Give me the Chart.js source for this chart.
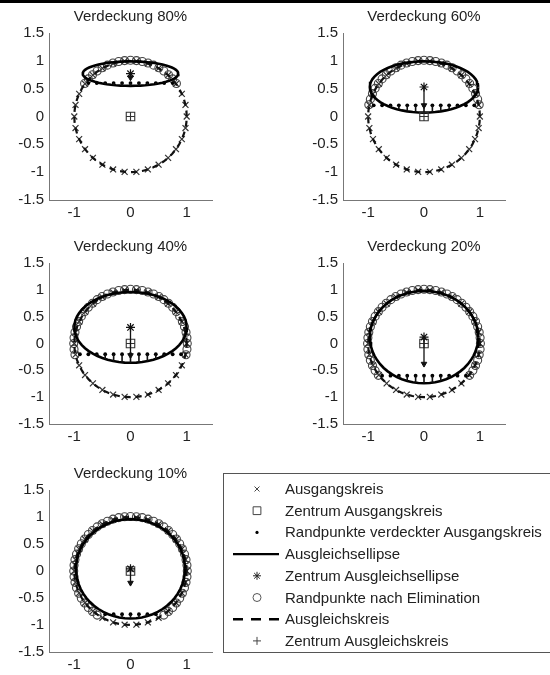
<!DOCTYPE html>
<html>
<head>
<meta charset="utf-8">
<script src="https://cdn.jsdelivr.net/npm/chart.js@4.4.0/dist/chart.umd.min.js"></script>
<style>
  body { margin: 0; width: 550px; height: 675px; overflow: hidden; background: #fff; position: relative;
         font-family: "Liberation Sans", Arial, sans-serif; }
  #topbar { position: absolute; left: 0; top: 0; width: 550px; height: 3px; background: #000; }
  canvas { position: absolute; }
  #legendBox { position: absolute; left: 223px; top: 473px; width: 360px; height: 178px; border: 1px solid #555; }
  .lg { position: absolute; left: 285px; height: 18px; line-height: 18px; font-size: 15px; color: #222; white-space: nowrap; }
</style>
</head>
<body>
<div id="topbar"></div>
<div id="legendBox"></div>
<canvas id="legendCanvas" width="327" height="182" style="left:223px;top:473px"></canvas>

<script>
// Panel data
const coverage   = [80, 60, 40, 20, 10];           // Verdeckung in %
const chordY     = [0.6, 0.2, -0.2, -0.6, -0.8];   // height of the occlusion edge
const ellipseCY  = [0.77, 0.53, 0.30, 0.12, 0.04]; // Zentrum Ausgleichsellipse (y)
const ellipseA   = [0.85, 0.97, 1.00, 0.97, 0.97]; // half axis x
const ellipseB   = [0.22, 0.46, 0.66, 0.86, 0.92]; // half axis y
const arrowEndY  = [0.70, 0.20, -0.22, -0.38, -0.22];
const fitCircleR = [1.0, 1.0, 1.0, 1.0, 1.0];      // Ausgleichskreis radius
const fitCircleC = [0, 0];                          // Zentrum Ausgleichskreis
const startCircleC = [0, 0];                        // Zentrum Ausgangskreis

// sample positions
const crossAngles = [0, 12, 24, 36, 48, 60, 72, 84, 96, 108, 120, 132, 144, 156, 168,
                     180, 192, 204, 216, 228, 240, 252, 264, 276, 288, 300, 312, 324, 336, 348];
const arcAngles = [0, 6, 12, 18, 24, 30, 36, 42, 48, 54, 60, 66, 72, 78, 84, 90, 96, 102, 108, 114,
                   120, 126, 132, 138, 144, 150, 156, 162, 168, 174, 180, 186, 192, 198, 204, 210,
                   216, 222, 228, 234, 240, 246, 252, 258, 264, 270, 276, 282, 288, 294, 300, 306,
                   312, 318, 324, 330, 336, 342, 348, 354];
const chordX = [-0.9, -0.75, -0.6, -0.45, -0.3, -0.15, 0, 0.15, 0.3, 0.45, 0.6, 0.75, 0.9];

const xTicks = [-1, 0, 1];
const yTicks = [-1.5, -1, -0.5, 0, 0.5, 1, 1.5];

const legendLabels = [
    'Ausgangskreis',
    'Zentrum Ausgangskreis',
    'Randpunkte verdeckter Ausgangskreis',
    'Ausgleichsellipse',
    'Zentrum Ausgleichsellipse',
    'Randpunkte nach Elimination',
    'Ausgleichskreis',
    'Zentrum Ausgleichskreis'
];

// plot area of every panel in page pixels
const panelBoxes = [
    { l: 49,  r: 212, t: 33,  b: 200 },
    { l: 343, r: 505, t: 33,  b: 200 },
    { l: 49,  r: 212, t: 263, b: 424 },
    { l: 343, r: 505, t: 263, b: 424 },
    { l: 49,  r: 212, t: 490, b: 652 }
];

Chart.defaults.font.family = '"Liberation Sans", Arial, sans-serif';
Chart.defaults.font.size = 15;
Chart.defaults.color = '#222';

const rad = d => d * Math.PI / 180;

function ring(cx, cy, rx, ry, angles) {
    return angles.map(a => ({ x: cx + rx * Math.cos(rad(a)), y: cy + ry * Math.sin(rad(a)) }));
}

function buildPanel(i) {
    const box = panelBoxes[i];
    const left = box.l - 49, top = box.t - 33;
    const canvas = document.createElement('canvas');
    canvas.width = box.r - left + 18;
    canvas.height = box.b - top + 25;
    canvas.style.left = left + 'px';
    canvas.style.top = top + 'px';
    document.body.appendChild(canvas);

    const h = chordY[i], cy = ellipseCY[i], a = ellipseA[i], b = ellipseB[i];
    const halfChord = Math.sqrt(1 - h * h);

    // original circle markers
    const crosses = ring(startCircleC[0], startCircleC[1], 1, 1, crossAngles);
    // remaining border points above the occlusion edge
    const elim = ring(0, 0, 1.01, 1.01, arcAngles.filter(d => Math.sin(rad(d)) >= h - 0.02));
    // occluded border points on the chord
    const chordPts = chordX.filter(x => Math.abs(x) < halfChord).map(x => ({ x: x, y: h }));
    // stems from the chord down to the ellipse
    const stems = [];
    chordPts.forEach(p => {
        if (Math.abs(p.x) >= a) return;
        const yLow = cy - b * Math.sqrt(1 - (p.x / a) * (p.x / a));
        if (yLow < h) {
            stems.push({ x: p.x, y: h }, { x: p.x, y: yLow }, { x: p.x, y: null });
        }
    });
    const ell = ring(0, cy, a, b, arcAngles.concat([360]));
    const fitC = ring(fitCircleC[0], fitCircleC[1], fitCircleR[i], fitCircleR[i], arcAngles.concat([360]));

    new Chart(canvas, {
        type: 'scatter',
        data: {
            datasets: [
                { label: 'arrow', data: [{ x: 0, y: cy }, { x: 0, y: arrowEndY[i] }], showLine: true,
                  borderColor: '#111', borderWidth: 1.3, pointRadius: [0, 3.2], pointStyle: 'triangle',
                  rotation: 180, backgroundColor: '#111', pointBorderWidth: 1 },
                { label: 'stems', data: stems, showLine: true, spanGaps: false, borderColor: '#111',
                  borderWidth: 1.6, pointRadius: 0 },
                { label: legendLabels[4], data: [{ x: 0, y: cy }], pointStyle: 'star', pointRadius: 4.5,
                  borderColor: '#111', borderWidth: 1.2, backgroundColor: 'transparent' },
                { label: legendLabels[7], data: [{ x: fitCircleC[0], y: fitCircleC[1] }], pointStyle: 'cross',
                  pointRadius: 4.5, borderColor: '#333', borderWidth: 1.1, backgroundColor: 'transparent' },
                { label: legendLabels[1], data: [{ x: startCircleC[0], y: startCircleC[1] }], pointStyle: 'rect',
                  pointRadius: 6, borderColor: '#333', borderWidth: 1.1, backgroundColor: 'transparent' },
                { label: legendLabels[3], data: ell, showLine: true, borderColor: '#000', borderWidth: 2.6,
                  pointRadius: 0, tension: 0 },
                { label: legendLabels[6], data: fitC, showLine: true, borderColor: '#111', borderWidth: 2.2,
                  borderDash: [6, 5], pointRadius: 0 },
                { label: legendLabels[2], data: chordPts, pointStyle: 'circle', pointRadius: 1.9,
                  backgroundColor: '#000', borderColor: '#000', borderWidth: 0 },
                { label: legendLabels[0], data: crosses, pointStyle: 'crossRot', pointRadius: 4.2,
                  borderColor: '#333', borderWidth: 1.2, backgroundColor: 'transparent' },
                { label: legendLabels[5], data: elim, pointStyle: 'circle', pointRadius: 4,
                  borderColor: '#444', borderWidth: 1.1, backgroundColor: 'transparent' }
            ]
        },
        options: {
            responsive: false,
            animation: false,
            events: [],
            layout: { padding: { left: 0, right: 18, top: 0, bottom: 0 } },
            plugins: {
                legend: { display: false },
                tooltip: { enabled: false },
                title: {
                    display: true,
                    text: 'Verdeckung ' + coverage[i] + '%',
                    fullSize: false,
                    font: { size: 15, weight: 'normal' },
                    color: '#222',
                    padding: { top: 8, bottom: 7 }
                }
            },
            scales: {
                x: {
                    type: 'linear', min: -1.45, max: 1.45,
                    grid: { display: false, drawTicks: false },
                    border: { display: true, color: '#777', width: 1 },
                    ticks: { padding: 4, color: '#222', callback: v => String(v) },
                    afterBuildTicks: s => { s.ticks = xTicks.map(v => ({ value: v })); },
                    afterFit: s => { s.height = 25; }
                },
                y: {
                    type: 'linear', min: -1.5, max: 1.5,
                    grid: { display: false, drawTicks: false },
                    border: { display: true, color: '#777', width: 1 },
                    ticks: { padding: 5, color: '#222', callback: v => String(v) },
                    afterBuildTicks: s => { s.ticks = yTicks.map(v => ({ value: v })); },
                    afterFit: s => { s.width = 49; }
                }
            }
        }
    });
}

coverage.forEach((c, i) => buildPanel(i));

// Legend: symbols drawn on a canvas, text kept as real text
const legendRowY = [489, 510.7, 532.4, 554.1, 575.8, 597.5, 619.2, 640.9];
const lc = document.getElementById('legendCanvas').getContext('2d');
const ox = 223, oy = 473, symX = 257;
lc.translate(-ox, -oy);

function sym(style, r, y, stroke, fill, bw) {
    lc.save();
    lc.strokeStyle = stroke;
    lc.fillStyle = fill;
    lc.lineWidth = bw;
    Chart.helpers.drawPoint(lc, { pointStyle: style, radius: r, rotation: 0, borderWidth: bw }, symX, y);
    lc.restore();
}
sym('crossRot', 3.5, legendRowY[0], '#444', 'transparent', 1);
sym('rect', 5.5, legendRowY[1], '#444', 'transparent', 1);
sym('circle', 1.6, legendRowY[2], '#000', '#000', 0);
lc.save();
lc.strokeStyle = '#000'; lc.lineWidth = 2.4;
lc.beginPath(); lc.moveTo(233, legendRowY[3]); lc.lineTo(279, legendRowY[3]); lc.stroke();
lc.setLineDash([10, 8]);
lc.beginPath(); lc.moveTo(233, legendRowY[6]); lc.lineTo(279, legendRowY[6]); lc.stroke();
lc.restore();
sym('star', 4, legendRowY[4], '#222', 'transparent', 1);
sym('circle', 4, legendRowY[5], '#555', 'transparent', 1);
sym('cross', 4, legendRowY[7], '#444', 'transparent', 1);

legendLabels.forEach((t, k) => {
    const d = document.createElement('div');
    d.className = 'lg';
    d.style.top = (legendRowY[k] - 9) + 'px';
    d.textContent = t;
    document.body.appendChild(d);
});
</script>
</body>
</html>
